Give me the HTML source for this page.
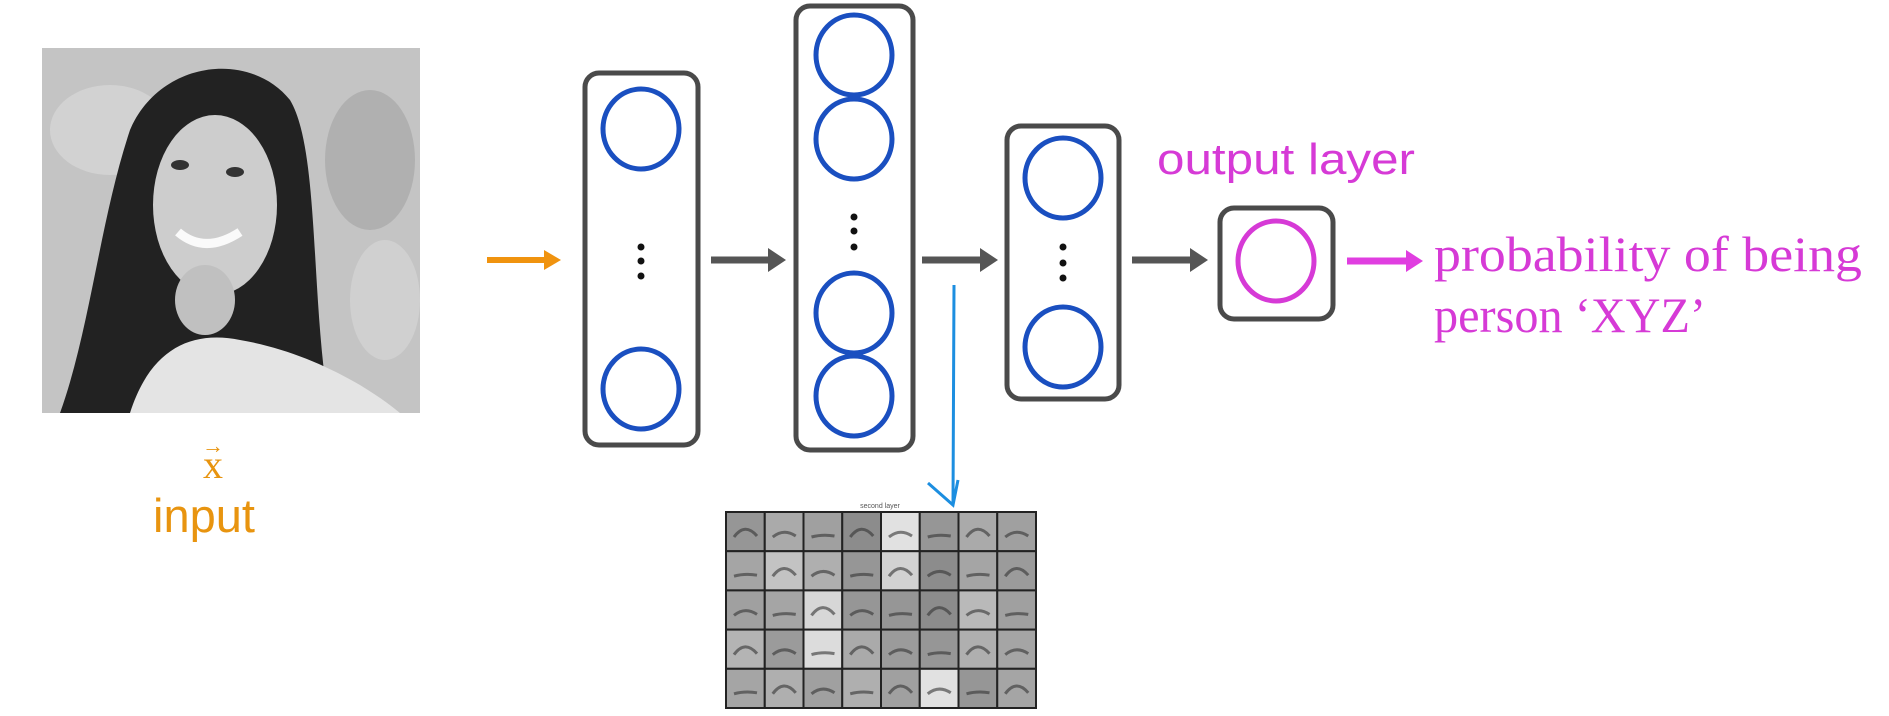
<!DOCTYPE html>
<html><head><meta charset="utf-8"><style>
body{margin:0;background:#fff;width:1889px;height:716px;overflow:hidden;position:relative;font-family:"Liberation Sans",sans-serif}
svg{position:absolute;left:0;top:0}
</style></head><body>
<svg width="1889" height="716">
<g>
<rect x="42" y="48" width="378" height="365" fill="#c4c4c4"/>
<ellipse cx="110" cy="130" rx="60" ry="45" fill="#d2d2d2"/>
<ellipse cx="370" cy="160" rx="45" ry="70" fill="#b0b0b0"/>
<ellipse cx="385" cy="300" rx="35" ry="60" fill="#d0d0d0"/>
<path d="M60,413 C90,330 100,220 130,130 C160,60 250,50 290,100 C320,150 310,300 330,413 Z" fill="#222"/>
<path d="M130,413 C150,350 190,330 240,340 C300,350 360,380 400,413 Z" fill="#e4e4e4"/>
<ellipse cx="215" cy="205" rx="62" ry="90" fill="#cdcdcd"/>
<ellipse cx="205" cy="300" rx="30" ry="35" fill="#c0c0c0"/>
<path d="M178,232 Q205,255 240,232" stroke="#fafafa" stroke-width="9" fill="none"/>
<ellipse cx="180" cy="165" rx="9" ry="5" fill="#333"/><ellipse cx="235" cy="172" rx="9" ry="5" fill="#333"/>
</g>
<text x="213" y="478" text-anchor="middle" font-family="Liberation Serif,serif" font-size="40" fill="#e8940f">x</text>
<text x="213" y="453" text-anchor="middle" font-size="22" fill="#e8940f">→</text>
<text x="204" y="532" text-anchor="middle" font-size="47" fill="#e8940f">input</text>
<line x1="487" y1="260" x2="548" y2="260" stroke="#f0930f" stroke-width="6"/>
<path d="M544,250 L561,260 L544,270z" fill="#f0930f"/>
<g fill="none" stroke-width="5">
<rect x="585" y="73" width="113" height="372" rx="14" stroke="#4a4a4a"/>
<ellipse cx="641" cy="129" rx="38" ry="40" stroke="#1a4fc0"/><ellipse cx="641" cy="389" rx="38" ry="40" stroke="#1a4fc0"/>
<rect x="796" y="6" width="117" height="444" rx="14" stroke="#4a4a4a"/>
<ellipse cx="854" cy="55" rx="38" ry="40" stroke="#1a4fc0"/><ellipse cx="854" cy="139" rx="38" ry="40" stroke="#1a4fc0"/>
<ellipse cx="854" cy="313" rx="38" ry="40" stroke="#1a4fc0"/><ellipse cx="854" cy="396" rx="38" ry="40" stroke="#1a4fc0"/>
<rect x="1007" y="126" width="112" height="273" rx="14" stroke="#4a4a4a"/>
<ellipse cx="1063" cy="178" rx="38" ry="40" stroke="#1a4fc0"/><ellipse cx="1063" cy="347" rx="38" ry="40" stroke="#1a4fc0"/>
<rect x="1220" y="208" width="113" height="111" rx="14" stroke="#4a4a4a"/>
<ellipse cx="1276" cy="261" rx="38" ry="40" stroke="#d63ad6"/>
</g>
<g fill="#111">
<circle cx="641" cy="247" r="3.5"/><circle cx="641" cy="261" r="3.5"/><circle cx="641" cy="276" r="3.5"/>
<circle cx="854" cy="217" r="3.5"/><circle cx="854" cy="231" r="3.5"/><circle cx="854" cy="247" r="3.5"/>
<circle cx="1063" cy="247" r="3.5"/><circle cx="1063" cy="263" r="3.5"/><circle cx="1063" cy="278" r="3.5"/>
</g>
<g stroke="#555" stroke-width="7">
<line x1="711" y1="260" x2="770" y2="260"/><line x1="922" y1="260" x2="982" y2="260"/><line x1="1132" y1="260" x2="1192" y2="260"/>
</g>
<g fill="#555"><path d="M768,248 L786,260 L768,272z"/><path d="M980,248 L998,260 L980,272z"/><path d="M1190,248 L1208,260 L1190,272z"/></g>
<line x1="1347" y1="261" x2="1408" y2="261" stroke="#e03ee0" stroke-width="7"/>
<path d="M1406,250 L1423,261 L1406,272z" fill="#e03ee0"/>
<text x="1157" y="174" font-size="44" textLength="258" lengthAdjust="spacingAndGlyphs" fill="#d63ad6">output layer</text>
<text x="1434" y="271" font-family="Liberation Serif,serif" font-size="50" textLength="428" lengthAdjust="spacingAndGlyphs" fill="#d63ad6">probability of being</text>
<text x="1434" y="332" font-family="Liberation Serif,serif" font-size="50" textLength="272" lengthAdjust="spacingAndGlyphs" fill="#d63ad6">person ‘XYZ’</text>
<path d="M954,285 L953,505 M928,483 L953,505 L958,480" stroke="#1c8ee0" stroke-width="3" fill="none"/>
<text x="880" y="508" text-anchor="middle" font-size="7" fill="#555">second layer</text>
<g id="grid"></g>
</svg>
<script>
const shades=[150,170,160,140,225,150,170,160,165,195,175,150,210,140,165,155,160,165,215,150,150,140,185,160,180,155,220,170,155,150,175,165,165,175,160,175,160,225,150,165];
const g=document.getElementById('grid');
const x0=726,y0=512,cw=38.75,ch=39.2;
shades.forEach((s,i)=>{const c=i%8,r=Math.floor(i/8);
const rc=document.createElementNS('http://www.w3.org/2000/svg','rect');
rc.setAttribute('x',x0+c*cw);rc.setAttribute('y',y0+r*ch);rc.setAttribute('width',cw);rc.setAttribute('height',ch);
rc.setAttribute('fill',`rgb(${s},${s},${s})`);rc.setAttribute('stroke','#222');rc.setAttribute('stroke-width','2');


g.appendChild(rc);
const p=document.createElementNS('http://www.w3.org/2000/svg','path');
const cx=x0+c*cw,cy=y0+r*ch;
p.setAttribute('d',`M${cx+8},${cy+25} Q${cx+19},${cy+10+(i%3)*6} ${cx+31},${cy+24}`);
p.setAttribute('stroke','#333');p.setAttribute('stroke-width','3');p.setAttribute('fill','none');p.setAttribute('opacity','0.6');
g.appendChild(p);});
</script>
</body></html>
